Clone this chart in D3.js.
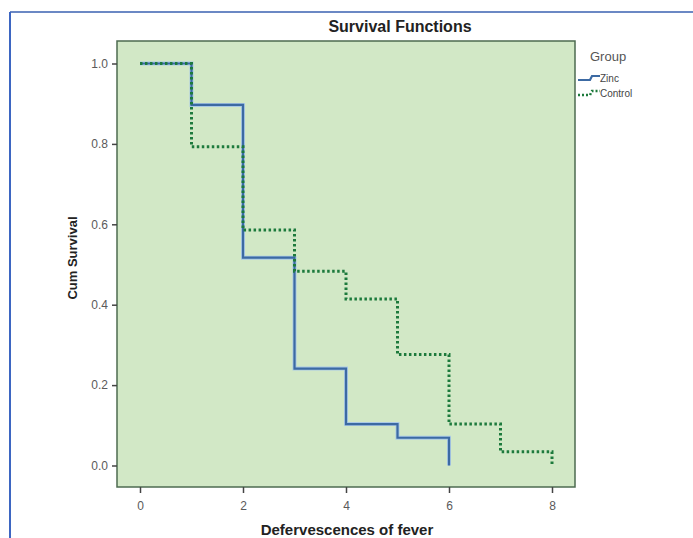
<!DOCTYPE html>
<html>
<head>
<meta charset="utf-8">
<script src="https://cdn.jsdelivr.net/npm/d3@7"></script>
<style>
  body { margin: 0; background: #fff; }
  svg { display: block; font-family: 'Liberation Sans', Arial, sans-serif; }
</style>
</head>
<body>
<div id="chart"></div>
<script>
// Kaplan-Meier steps
var times = [0, 1, 2, 3, 4, 5, 6, 7, 8];
var zincSurv = [1.0, 0.897, 0.517, 0.241, 0.103, 0.069, 0.0];
var controlSurv = [1.0, 0.793, 0.586, 0.483, 0.414, 0.276, 0.103, 0.034, 0.0];
var xTicks = [0, 2, 4, 6, 8];
var yTicks = [0.0, 0.2, 0.4, 0.6, 0.8, 1.0];
var groups = ['Zinc', 'Control'];

var width = 693;
var height = 538;

var plot = { left: 117, top: 41, right: 575, bottom: 487 };

var svg = d3.select('#chart')
    .append('svg')
    .attr('width', width)
    .attr('height', height);

// outer frame (only top and left visible)
svg.append('line')
    .attr('x1', 10).attr('y1', 12).attr('x2', width).attr('y2', 12)
    .attr('stroke', '#6b88c4').attr('stroke-width', 2);
svg.append('line')
    .attr('x1', 10).attr('y1', 12).attr('x2', 10).attr('y2', height)
    .attr('stroke', '#3d66c2').attr('stroke-width', 2);

var x = d3.scaleLinear().domain([0, 8]).range([140, 552]);
var y = d3.scaleLinear().domain([0, 1]).range([465.5, 63.5]);

svg.append('rect')
    .attr('x', plot.left)
    .attr('y', plot.top)
    .attr('width', plot.right - plot.left)
    .attr('height', plot.bottom - plot.top)
    .attr('fill', '#d2e8c6')
    .attr('stroke', '#4d6b50')
    .attr('stroke-width', 1.5);

// axes
var xAxis = svg.append('g')
    .attr('transform', 'translate(0,' + plot.bottom + ')')
    .call(d3.axisBottom(x).tickValues(xTicks).tickFormat(d3.format('d')).tickSize(6).tickSizeOuter(0));
var yAxis = svg.append('g')
    .attr('transform', 'translate(' + plot.left + ',0)')
    .call(d3.axisLeft(y).tickValues(yTicks).tickFormat(d3.format('.1f')).tickSize(5).tickSizeOuter(0));

[xAxis, yAxis].forEach(function(a) {
    a.select('.domain').remove();
    a.selectAll('line').attr('stroke', '#444').attr('stroke-width', 1.5);
    a.selectAll('text')
        .attr('fill', '#5a5a5a')
        .style('font-size', '12px')
        .style('font-family', "'Liberation Sans', Arial, sans-serif");
});
xAxis.selectAll('text').attr('dy', '1.15em');
yAxis.selectAll('text').attr('dx', '-1px');

function stepData(vals) {
    var pts = [];
    vals.forEach(function(v, i) {
        pts.push([times[i], v]);
        if (i < vals.length - 1) pts.push([times[i + 1], v]);
    });
    return pts;
}

var line = d3.line()
    .x(function(d) { return x(d[0]); })
    .y(function(d) { return y(d[1]); });

// zinc: solid blue with a light halo
svg.append('path')
    .attr('d', line(stepData(zincSurv)))
    .attr('fill', 'none')
    .attr('stroke', '#a9c9e6')
    .attr('stroke-width', 4);
svg.append('path')
    .attr('d', line(stepData(zincSurv)))
    .attr('fill', 'none')
    .attr('stroke', '#3c6aa3')
    .attr('stroke-width', 2.2);

// control: dotted green
svg.append('path')
    .attr('d', line(stepData(controlSurv)))
    .attr('fill', 'none')
    .attr('stroke', '#1d7a3c')
    .attr('stroke-width', 3)
    .attr('stroke-dasharray', '2.5,2.5');

// title
svg.append('text')
    .attr('x', 400)
    .attr('y', 32)
    .attr('text-anchor', 'middle')
    .attr('fill', '#222')
    .style('font-size', '16px')
    .style('font-weight', 'bold')
    .text('Survival Functions');

// axis titles
svg.append('text')
    .attr('transform', 'translate(77,258) rotate(-90)')
    .attr('text-anchor', 'middle')
    .attr('fill', '#222')
    .style('font-size', '13px')
    .style('font-weight', 'bold')
    .text('Cum Survival');

svg.append('text')
    .attr('x', 347)
    .attr('y', 535)
    .attr('text-anchor', 'middle')
    .attr('fill', '#222')
    .style('font-size', '15px')
    .style('font-weight', 'bold')
    .text('Defervescences of fever');

// legend
svg.append('text')
    .attr('x', 590)
    .attr('y', 61)
    .attr('fill', '#555')
    .style('font-size', '13px')
    .text('Group');

var legendY = d3.scalePoint().domain(groups).range([78, 93]);

groups.forEach(function(g) {
    var ly = legendY(g);
    var p = d3.path();
    p.moveTo(578, ly + 2);
    p.lineTo(590, ly + 2);
    p.lineTo(592, ly - 2);
    p.lineTo(600, ly - 2);
    var s = svg.append('path')
        .attr('d', p.toString())
        .attr('fill', 'none');
    if (g === 'Zinc') {
        s.attr('stroke', '#3c6aa3').attr('stroke-width', 2.2);
    } else {
        s.attr('stroke', '#1d7a3c').attr('stroke-width', 2.5).attr('stroke-dasharray', '2,2');
    }
    svg.append('text')
        .attr('x', 600)
        .attr('y', ly + 4)
        .attr('fill', '#444')
        .style('font-size', '10px')
        .text(g);
});
</script>
</body>
</html>
